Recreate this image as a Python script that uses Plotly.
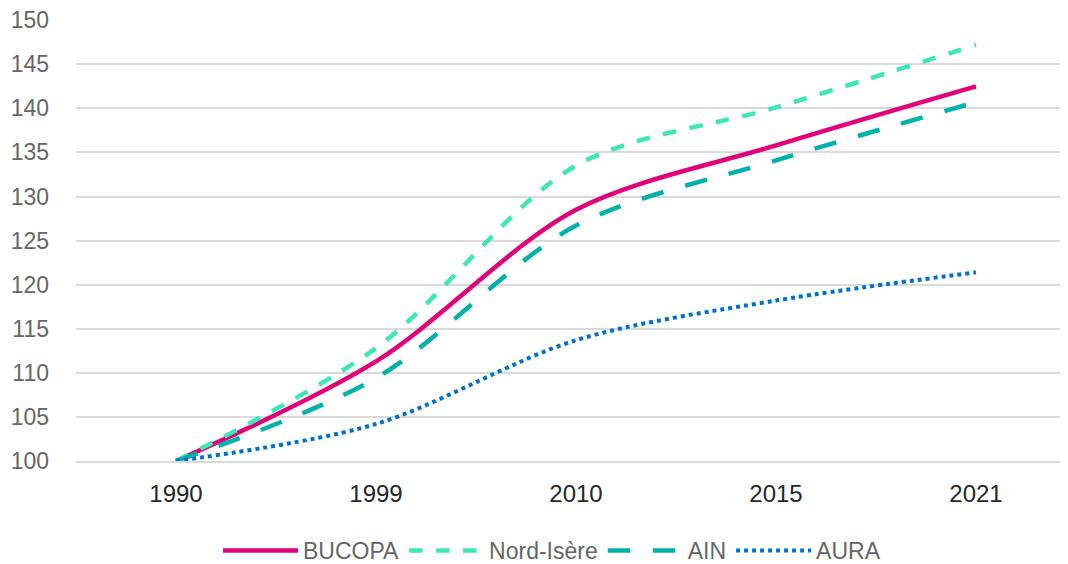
import plotly.graph_objects as go

years = ["1990", "1999", "2010", "2015", "2021"]
bucopa = [100, 111.3, 128.5, 135.8, 142.5]
nord_isere = [100, 112.8, 133.5, 140.1, 147.2]
ain = [100, 109.4, 126.7, 134.1, 140.7]
aura = [100, 104.2, 113.7, 118.2, 121.4]

series = [
    ("BUCOPA", bucopa, "#E2007A", "solid", 4.5),
    ("Nord-Isère", nord_isere, "#3DE8B4", "dash", 4.5),
    ("AIN", ain, "#00B2A9", "longdash", 4.5),
    ("AURA", aura, "#0070C8", "dot", 4),
]

fig = go.Figure()
for name, vals, color, dash, width in series:
    fig.add_trace(go.Scatter(
        x=years, y=vals, name=name, mode="lines",
        line=dict(color=color, dash=dash, width=width, shape="spline", smoothing=0.9),
    ))

font_family = "Liberation Sans, sans-serif"

# the page body adds an 8px offset, so margins are trimmed by 8
fig.update_layout(
    width=1068, height=564,
    margin=dict(l=68, r=0, t=12, b=111),
    paper_bgcolor="white", plot_bgcolor="white",
    font=dict(family=font_family, size=23, color="#666666"),
    legend=dict(orientation="h", x=0.476, xanchor="center", yref="container", y=0.0, yanchor="bottom",
                font=dict(size=23, color="#666666"), itemwidth=75, tracegroupgap=0),
    showlegend=True,
)
fig.update_xaxes(
    type="category", range=[-0.5, 4.5], showgrid=False, zeroline=False,
    showline=True, linecolor="#D9D9D9", linewidth=2, automargin=False,
    tickfont=dict(color="#262626", size=24), ticklabelstandoff=10,
)
fig.update_yaxes(
    range=[100, 150.02], tickvals=list(range(100, 151, 5)), showgrid=True,
    gridcolor="#D9D9D9", gridwidth=2, zeroline=False, showline=False,
    ticklabelstandoff=26, automargin=False, ticklabeloverflow="allow",
    tickfont=dict(color="#666666", size=23),
)

fig.write_html("out.html")
